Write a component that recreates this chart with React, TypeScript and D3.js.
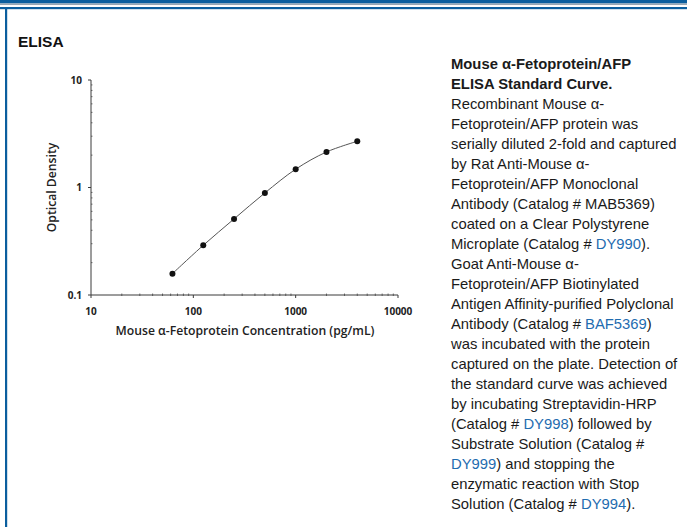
import React from 'react';
import * as d3 from 'd3';

// Standard curve points (pg/mL vs OD)
const concentrations = [62.5, 125, 250, 500, 1000, 2000, 4000];
const opticalDensity = [0.158, 0.29, 0.51, 0.89, 1.48, 2.14, 2.69];
const xTicks = [10, 100, 1000, 10000];
const yTicks = [0.1, 1, 10];

// caption lines; [text, isLink] chunks
const caption: [string, boolean][][] = [
  [['Recombinant Mouse α-', false]],
  [['Fetoprotein/AFP protein was', false]],
  [['serially diluted 2-fold and captured', false]],
  [['by Rat Anti-Mouse α-', false]],
  [['Fetoprotein/AFP Monoclonal', false]],
  [['Antibody (Catalog # MAB5369)', false]],
  [['coated on a Clear Polystyrene', false]],
  [['Microplate (Catalog # ', false], ['DY990', true], [').', false]],
  [['Goat Anti-Mouse α-', false]],
  [['Fetoprotein/AFP Biotinylated', false]],
  [['Antigen Affinity-purified Polyclonal', false]],
  [['Antibody (Catalog # ', false], ['BAF5369', true], [')', false]],
  [['was incubated with the protein', false]],
  [['captured on the plate. Detection of', false]],
  [['the standard curve was achieved', false]],
  [['by incubating Streptavidin-HRP', false]],
  [['(Catalog # ', false], ['DY998', true], [') followed by', false]],
  [['Substrate Solution (Catalog #', false]],
  [['DY999', true], [') and stopping the', false]],
  [['enzymatic reaction with Stop', false]],
  [['Solution (Catalog # ', false], ['DY994', true], [').', false]],
];
const captionTitle = ['Mouse α-Fetoprotein/AFP', 'ELISA Standard Curve.'];

const W = 687;
const H = 527;
const BLUE = '#0b5e9e';
const LINK = '#1f6cb0';
const AXIS = '#3a3a3a';

export default function App() {
  const x = d3.scaleLog().domain([10, 10000]).range([91, 398]);
  const y = d3.scaleLog().domain([0.1, 10]).range([295, 80]);

  const pts = concentrations.map((c, i) => [c, opticalDensity[i]] as [number, number]);
  const line = d3
    .line<[number, number]>()
    .x(d => x(d[0]))
    .y(d => y(d[1]))
    .curve(d3.curveCatmullRom.alpha(0.5));

  // minor ticks for each decade
  const minorX: number[] = [];
  for (const base of [10, 100, 1000]) for (let k = 2; k <= 9; k++) minorX.push(base * k);
  const minorY: number[] = [];
  for (const base of [0.1, 1]) for (let k = 2; k <= 9; k++) minorY.push(base * k);

  const chartFont = '"Open Sans", "DejaVu Sans", sans-serif';
  const textFont = '"Liberation Sans", Arial, sans-serif';

  return (
    <svg width={W} height={H} style={{ position: 'absolute', left: 0, top: 0 }}>
      <rect width={W} height={H} fill="#fff" />
      {/* header bars */}
      <rect x={0} y={0} width={W} height={3.5} fill={BLUE} />
      <rect x={0} y={3.5} width={W} height={1.5} fill="#9aa7b3" />
      <rect x={0} y={7} width={W} height={2.2} fill={BLUE} />
      <rect x={5} y={7} width={2.2} height={H - 7} fill={BLUE} />

      <text x={18} y={47} fontFamily={textFont} fontWeight="bold" fontSize={15.5} fill="#111">
        ELISA
      </text>

      {/* axes */}
      <g stroke={AXIS} strokeWidth={1} fill="none">
        <line x1={x(10)} x2={x(10)} y1={y(10)} y2={y(0.1)} />
        <line x1={x(10)} x2={x(10000)} y1={y(0.1)} y2={y(0.1)} />
        {xTicks.map(t => (
          <line key={'xt' + t} x1={x(t)} x2={x(t)} y1={y(0.1)} y2={y(0.1) + 3} />
        ))}
        {minorX.map(t => (
          <line key={'xm' + t} x1={x(t)} x2={x(t)} y1={y(0.1) - 1.5} y2={y(0.1) + 1} strokeWidth={0.7} />
        ))}
        {yTicks.map(t => (
          <line key={'yt' + t} x1={x(10) - 3} x2={x(10)} y1={y(t)} y2={y(t)} />
        ))}
        {minorY.map(t => (
          <line key={'ym' + t} x1={x(10)} x2={x(10) + 1.5} y1={y(t)} y2={y(t)} strokeWidth={0.7} />
        ))}
      </g>

      <g fontFamily={chartFont} fontWeight="bold" fontSize={10} fill="#222">
        {xTicks.map(t => (
          <text key={'xl' + t} x={x(t)} y={314.5} textAnchor="middle">
            {t}
          </text>
        ))}
        {yTicks.map(t => (
          <text key={'yl' + t} x={82} y={y(t) + 3.5} textAnchor="end">
            {t}
          </text>
        ))}
      </g>
      <text
        x={245}
        y={335}
        textAnchor="middle"
        fontFamily={chartFont}
        fontWeight={600}
        fontSize={12.2}
        fill="#222"
      >
        Mouse α-Fetoprotein Concentration (pg/mL)
      </text>
      <text
        transform={`translate(56,${y(1)}) rotate(-90)`}
        textAnchor="middle"
        fontFamily={chartFont}
        fontWeight={600}
        fontSize={12.2}
        fill="#222"
      >
        Optical Density
      </text>

      <path d={line(pts) || ''} fill="none" stroke="#555" strokeWidth={1} />
      {pts.map((p, i) => (
        <circle key={i} cx={x(p[0])} cy={y(p[1])} r={3} fill="#111" />
      ))}

      {/* caption */}
      <g fontFamily={textFont} fontSize={14.8} fill="#1a1a1a">
        {captionTitle.map((t, i) => (
          <text key={'ct' + i} x={451} y={69 + i * 20} fontWeight="bold">
            {t}
          </text>
        ))}
        {caption.map((ln, i) => (
          <text key={'c' + i} x={451} y={109 + i * 20}>
            {ln.map(([s, link], j) => (
              <tspan key={j} fill={link ? LINK : '#1a1a1a'}>
                {s}
              </tspan>
            ))}
          </text>
        ))}
      </g>
    </svg>
  );
}
